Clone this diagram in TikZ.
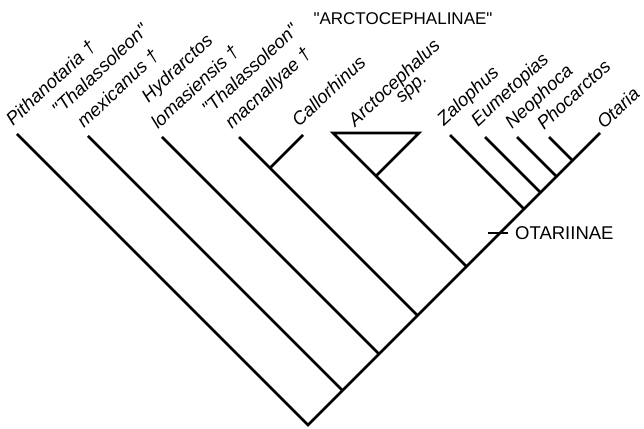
\documentclass[tikz,border=0pt]{standalone}
\usepackage{fontspec}
% plain family (no TeX ligature mapping) so that " stays a straight quote
\newfontfamily\labelfont{Liberation Sans}
\begin{document}
\begin{tikzpicture}[x=1pt, y=1pt,
  branch/.style={line width=2.8pt, line join=miter, line cap=butt},
  tick/.style={line width=1.6pt},
  taxon/.style={font=\labelfont\fontsize{18.5}{26}\selectfont\itshape, rotate=43, inner sep=0pt, anchor=base west},
  taxonpair/.style={taxon, anchor=base},
  cladename/.style={font=\labelfont\fontsize{18.5}{22}\selectfont, inner sep=0pt}]
\fill[white] (0,0) rectangle (644,428);
\useasboundingbox (0,0) rectangle (644,428);

% root and the nodes along the right-hand spine
\coordinate (root) at (308,3);
\coordinate (n1) at (342.5,37.5);
\coordinate (n2) at (379,74);
\coordinate (n3) at (417.5,112.5);
\coordinate (n3a) at (270,260);
\coordinate (n4) at (466.5,161.5);
\coordinate (n5) at (524,219);
\coordinate (n6) at (540.5,235.5);
\coordinate (n7) at (556.5,251.5);
\coordinate (n8) at (572.5,267.5);

% terminal taxa
\coordinate (pith) at (17,294);
\coordinate (mex) at (88,292);
\coordinate (hyd) at (162,291);
\coordinate (mac) at (239,291);
\coordinate (call) at (303,293);
\coordinate (triL) at (333,295);
\coordinate (triR) at (419,295);
\coordinate (triB) at (376,252);
\coordinate (zal) at (450,293);
\coordinate (eum) at (485,291);
\coordinate (neo) at (517,291);
\coordinate (pho) at (549,291);
\coordinate (ota) at (600,295);

% branches
\draw[branch] (pith) -- (root) -- (ota);
\draw[branch] (mex) -- (n1);
\draw[branch] (hyd) -- (n2);
\draw[branch] (mac) -- (n3);
\draw[branch] (call) -- (n3a);
\draw[branch] (n4) -- (triL) -- (triR) -- (triB);
\draw[branch] (zal) -- (n5);
\draw[branch] (eum) -- (n6);
\draw[branch] (neo) -- (n7);
\draw[branch] (pho) -- (n8);

% taxon labels, slanted along the tips
\node[taxon] (lpith) at (13,301.2) {Pithanotaria †};
\node[taxonpair] (lmex) at (122,334.7) {\begin{tabular}[b]{@{}c@{}}"Thalassoleon"\\ mexicanus †\end{tabular}};
\node[taxonpair] (lhyd) at (199,336.4) {\begin{tabular}[b]{@{}c@{}}Hydrarctos\\ lomasiensis †\end{tabular}};
\node[taxonpair] (lmac) at (272,335.2) {\begin{tabular}[b]{@{}c@{}}"Thalassoleon"\\ macnallyae †\end{tabular}};
\node[taxon] (lcall) at (299,300.2) {Callorhinus};
\node[taxonpair] (larc) at (408.4,329.9) {\begin{tabular}[b]{@{}c@{}}Arctocephalus\\[-11pt] \hspace*{18pt}spp.\end{tabular}};
\node[taxon] (lzal) at (444,301.5) {Zalophus};
\node[taxon] (leum) at (478,300.5) {Eumetopias};
\node[taxon] (lneo) at (512,298) {Neophoca};
\node[taxon] (lpho) at (544,297) {Phocarctos};
\node[taxon] (lota) at (604,298) {Otaria};

% clade names
\coordinate (tickL) at (488,195);
\coordinate (tickR) at (508,195);
\draw[tick] (tickL) -- (tickR);
\node[cladename, anchor=west] (otar) at (515,195) {OTARIINAE};
\node[cladename, font=\labelfont\fontsize{17}{20}\selectfont, anchor=base] (arct) at (403,403) {"ARCTOCEPHALINAE"};
\end{tikzpicture}
\end{document}
